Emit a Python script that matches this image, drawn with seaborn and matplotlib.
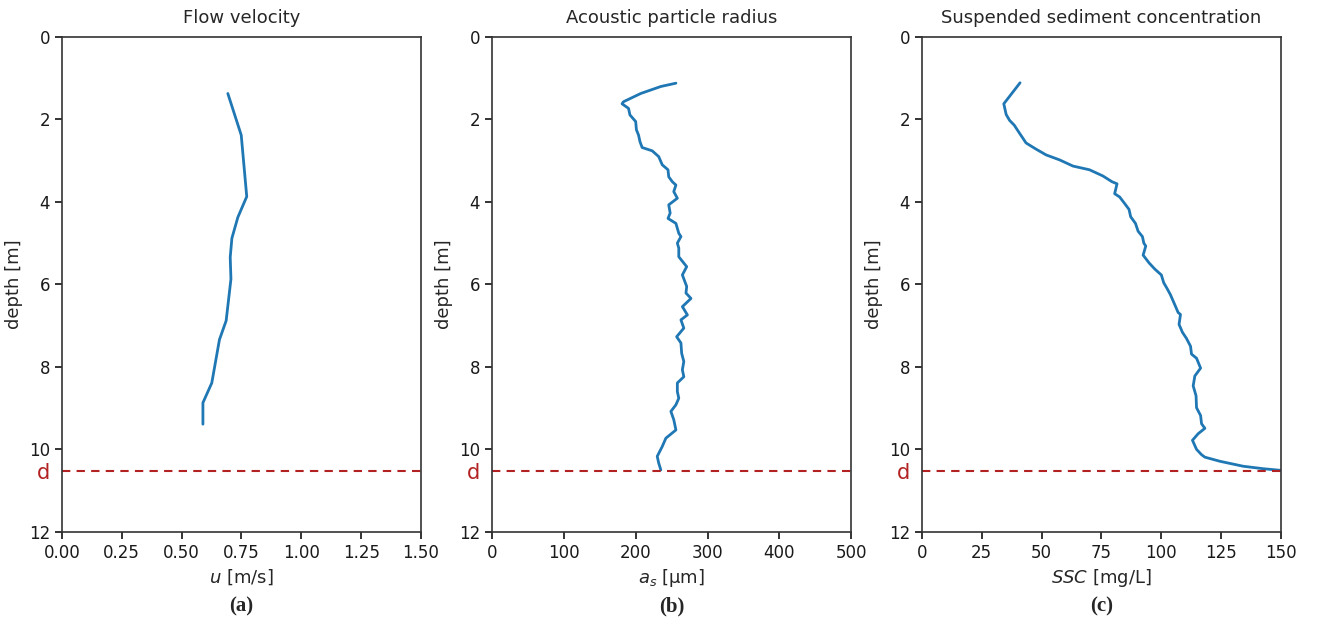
import numpy as np
import pandas as pd
import seaborn as sns
import matplotlib.pyplot as plt

# Panel (a): flow velocity profile
U_DEPTH = [1.37, 2.38, 3.87, 4.37, 4.88, 5.34, 5.87, 6.88, 7.34, 8.39, 8.87, 9.39]
U_VALUE = [0.693, 0.749, 0.772, 0.735, 0.710, 0.703, 0.706, 0.686, 0.658, 0.626, 0.589, 0.589]

# Panel (b): acoustic particle radius [um]
AS_DEPTH = [1.12, 1.20, 1.37, 1.57, 1.62, 1.73, 1.89, 2.05, 2.25, 2.38, 2.54, 2.68,
            2.76, 2.90, 3.10, 3.22, 3.39, 3.51, 3.59, 3.75, 3.91, 4.07, 4.27, 4.40,
            4.52, 4.76, 4.84, 5.00, 5.12, 5.33, 5.57, 5.77, 6.05, 6.21, 6.34, 6.54,
            6.74, 6.86, 7.06, 7.27, 7.42, 7.67, 7.87, 8.07, 8.24, 8.39, 8.60, 8.76,
            8.92, 9.08, 9.28, 9.53, 9.73, 9.93, 10.17, 10.33, 10.50]
AS_VALUE = [256, 235, 207, 183, 181, 190, 192, 200, 201, 204, 206, 209,
            223, 232, 237, 245, 246, 251, 256, 253, 258, 246, 248, 245,
            256, 260, 263, 258, 260, 260, 271, 265, 271, 270, 277, 265,
            272, 263, 267, 257, 263, 264, 267, 265, 267, 258, 258, 260,
            256, 249, 253, 256, 242, 237, 230, 232, 235]

# Panel (c): suspended sediment concentration [mg/L]
SSC_DEPTH = [1.11, 1.62, 1.88, 2.02, 2.14, 2.31, 2.43, 2.57, 2.72, 2.86, 2.98, 3.13,
             3.22, 3.37, 3.51, 3.56, 3.80, 3.88, 4.04, 4.18, 4.36, 4.52, 4.71, 4.84,
             5.00, 5.07, 5.29, 5.48, 5.63, 5.77, 5.96, 6.10, 6.25, 6.49, 6.68, 6.73,
             6.97, 7.16, 7.31, 7.50, 7.69, 7.79, 8.03, 8.22, 8.46, 8.70, 8.99, 9.18,
             9.38, 9.49, 9.62, 9.78, 10.00, 10.13, 10.19, 10.29, 10.41, 10.47, 10.51]
SSC_VALUE = [41.0, 34.2, 35.2, 36.6, 38.6, 40.5, 41.9, 43.5, 47.7, 51.9, 57.5, 63.1,
             70.0, 75.6, 79.4, 81.5, 80.5, 82.6, 84.7, 86.5, 87.2, 89.2, 90.3, 92.1,
             92.7, 93.5, 92.4, 94.9, 97.3, 100.0, 101.0, 102.4, 103.8, 105.6, 107.0, 108.0,
             107.4, 108.8, 110.5, 112.2, 112.6, 114.7, 116.4, 114.0, 113.3, 114.5, 114.7, 116.4,
             116.8, 118.2, 115.4, 113.0, 114.7, 116.8, 118.2, 124.5, 134.2, 142.6, 150.0]

BED_DEPTH = 10.52

TITLES = ['Flow velocity', 'Acoustic particle radius', 'Suspended sediment concentration']
XLABELS = [r'$u$ [m/s]', r'$a_s$ [µm]', r'$SSC$ [mg/L]']
XLIMS = [(0, 1.5), (0, 500), (0, 150)]
XTICKS = [[0, 0.25, 0.5, 0.75, 1.0, 1.25, 1.5],
          [0, 100, 200, 300, 400, 500],
          [0, 25, 50, 75, 100, 125, 150]]
XTICKLABELS = [['0.00', '0.25', '0.50', '0.75', '1.00', '1.25', '1.50'],
               ['0', '100', '200', '300', '400', '500'],
               ['0', '25', '50', '75', '100', '125', '150']]
PANEL_TAGS = ['(a)', '(b)', '(c)']

sns.set_theme(style='ticks')
plt.rcParams['font.family'] = ['DejaVu Sans']

profiles = [
    pd.DataFrame({'value': U_VALUE, 'depth': U_DEPTH}),
    pd.DataFrame({'value': AS_VALUE, 'depth': AS_DEPTH}),
    pd.DataFrame({'value': SSC_VALUE, 'depth': SSC_DEPTH}),
]

fig = plt.figure(figsize=(13.17, 6.22), dpi=100)
lefts = [0.047, 0.3736, 0.700]
width = 0.2727
bottom, height = 0.145, 0.7955
red = '#b22222'

for i, df in enumerate(profiles):
    ax = fig.add_axes([lefts[i], bottom, width, height])
    sns.lineplot(data=df, x='value', y='depth', sort=False, estimator=None,
                 color='#1f77b4', linewidth=2, ax=ax)
    ax.axhline(BED_DEPTH, color=red, linestyle='--', linewidth=1.5, dashes=(4, 3))
    ax.set_xlim(*XLIMS[i])
    ax.set_ylim(12, 0)
    ax.set_xticks(XTICKS[i])
    ax.set_xticklabels(XTICKLABELS[i])
    ax.set_yticks([0, 2, 4, 6, 8, 10, 12, BED_DEPTH])
    ax.set_yticklabels(['0', '2', '4', '6', '8', '10', '12', 'd'])
    ax.tick_params(labelsize=12, colors='#1a1a1a', length=5)
    ax.yaxis.get_major_ticks()[-1].tick1line.set_visible(False)
    d_lab = ax.get_yticklabels()[-1]
    d_lab.set_color(red)
    d_lab.set_fontsize(15)
    for sp in ax.spines.values():
        sp.set_color('#333333')
        sp.set_linewidth(1.2)
    ax.set_title(TITLES[i], fontsize=13, pad=10)
    ax.set_xlabel(XLABELS[i], fontsize=13, labelpad=4)
    ax.set_ylabel('depth [m]', fontsize=13)
    fig.text(lefts[i] + width / 2, 0.025, PANEL_TAGS[i], ha='center', va='center',
             fontsize=15, fontweight='bold', family='Liberation Serif')

fig.savefig('out.png', dpi=100)
